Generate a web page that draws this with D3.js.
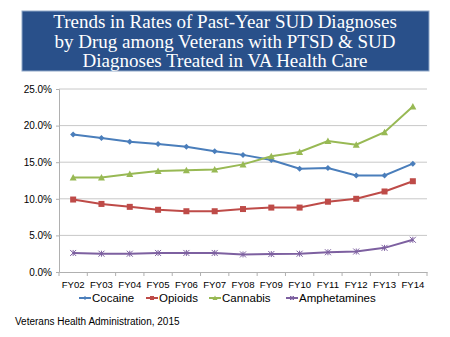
<!DOCTYPE html>
<html>
<head>
<meta charset="utf-8">
<script src="https://cdn.jsdelivr.net/npm/d3@7"></script>
<style>
  body { margin: 0; background: #fff; }
  svg text { font-family: "Liberation Sans", Arial, sans-serif; }
</style>
</head>
<body>
<script>
var years = ["FY02","FY03","FY04","FY05","FY06","FY07","FY08","FY09","FY10","FY11","FY12","FY13","FY14"];
var cocaine = [18.8, 18.3, 17.8, 17.5, 17.1, 16.5, 16.0, 15.3, 14.1, 14.2, 13.2, 13.2, 14.8];
var opioids = [9.9, 9.3, 8.9, 8.5, 8.3, 8.3, 8.6, 8.8, 8.8, 9.6, 10.0, 11.0, 12.4];
var cannabis = [12.9, 12.9, 13.4, 13.8, 13.9, 14.0, 14.7, 15.8, 16.4, 17.9, 17.4, 19.1, 22.6];
var amphetamines = [2.6, 2.5, 2.5, 2.6, 2.6, 2.6, 2.4, 2.45, 2.5, 2.7, 2.8, 3.3, 4.4];
var yTicks = [0, 5, 10, 15, 20, 25];
var titleLines = ["Trends in Rates of Past-Year SUD Diagnoses",
                  "by Drug among Veterans with PTSD & SUD",
                  "Diagnoses Treated in VA Health Care"];

var series = [
  {name: "Cocaine", values: cocaine, color: "#4a7ebb", marker: "diamond"},
  {name: "Opioids", values: opioids, color: "#be4b48", marker: "square"},
  {name: "Cannabis", values: cannabis, color: "#98b954", marker: "triangle"},
  {name: "Amphetamines", values: amphetamines, color: "#7d60a0", marker: "cross"}
];

var W = 450, H = 337;
var margin = {top: 89, right: 23, bottom: 65, left: 59};
var width = W - margin.left - margin.right;
var height = H - margin.top - margin.bottom;

var svg = d3.select("body").append("svg")
    .attr("width", W)
    .attr("height", H);

// title banner
svg.append("rect")
    .attr("x", 22).attr("y", 11)
    .attr("width", 407).attr("height", 60)
    .attr("fill", "#29508a")
    .attr("stroke", "#8fa7c8").attr("stroke-width", 1);

svg.append("g").selectAll("text")
    .data(titleLines)
    .enter().append("text")
    .attr("x", 225)
    .attr("y", function(d, i) { return 28 + i * 19.5; })
    .attr("text-anchor", "middle")
    .attr("fill", "#fff")
    .style("font-family", "'Liberation Serif', 'Times New Roman', serif")
    .style("font-size", "19px")
    .text(function(d) { return d; });

var g = svg.append("g")
    .attr("transform", "translate(" + margin.left + "," + margin.top + ")");

var x = d3.scaleBand().domain(years).range([0, width]);
var y = d3.scaleLinear().domain([0, 25]).range([height, 0]);

// gridlines
g.append("g").selectAll("line")
    .data(yTicks.slice(1))
    .enter().append("line")
    .attr("x1", 0).attr("x2", width)
    .attr("y1", function(d) { return y(d); })
    .attr("y2", function(d) { return y(d); })
    .attr("stroke", "#c8c8c8");

// y axis
var yAxis = g.append("g")
    .call(d3.axisLeft(y).tickValues(yTicks).tickSize(3).tickPadding(4)
      .tickFormat(function(d) { return d.toFixed(1) + "%"; }));
yAxis.select(".domain").attr("stroke", "#b0b0b0");
yAxis.selectAll(".tick line").attr("stroke", "#b0b0b0");
yAxis.selectAll("text").attr("fill", "#000").style("font-size", "10px");

// x axis, ticks between categories
var xAxis = g.append("g")
    .attr("transform", "translate(0," + height + ")")
    .call(d3.axisBottom(x).tickSize(0).tickPadding(9));
xAxis.select(".domain").attr("stroke", "#b0b0b0");
xAxis.selectAll("text").attr("fill", "#000").style("font-size", "9.6px");
xAxis.append("g").selectAll("line")
    .data(d3.range(years.length + 1))
    .enter().append("line")
    .attr("x1", function(i) { return i * x.bandwidth(); })
    .attr("x2", function(i) { return i * x.bandwidth(); })
    .attr("y1", 0).attr("y2", 4)
    .attr("stroke", "#b0b0b0");

function drawMarker(sel, type, color, s) {
  if (type === "diamond") {
    sel.append("path").attr("d", "M0," + (-s) + "L" + s + ",0L0," + s + "L" + (-s) + ",0Z").attr("fill", color);
  } else if (type === "square") {
    sel.append("rect").attr("x", -s).attr("y", -s).attr("width", 2 * s).attr("height", 2 * s).attr("fill", color);
  } else if (type === "triangle") {
    sel.append("path").attr("d", "M0," + (-s - 0.5) + "L" + (s + 0.5) + "," + s + "L" + (-s - 0.5) + "," + s + "Z").attr("fill", color);
  } else {
    sel.append("path").attr("d", "M" + (-s) + "," + (-s) + "L" + s + "," + s + "M" + (-s) + "," + s + "L" + s + "," + (-s) + "M0," + (-s) + "L0," + s)
      .attr("stroke", color).attr("stroke-width", 1).attr("fill", "none");
  }
}

var line = d3.line()
    .x(function(d, i) { return x(years[i]) + x.bandwidth() / 2; })
    .y(function(d) { return y(d); });

series.forEach(function(s) {
  g.append("path")
    .datum(s.values)
    .attr("d", line)
    .attr("fill", "none")
    .attr("stroke", s.color)
    .attr("stroke-width", 2);
  g.append("g").selectAll("g")
    .data(s.values)
    .enter().append("g")
    .attr("transform", function(d, i) { return "translate(" + (x(years[i]) + x.bandwidth() / 2) + "," + y(d) + ")"; })
    .each(function() { drawMarker(d3.select(this), s.marker, s.color, 3); });
});

// legend
var legendX = [79, 146, 209, 286];
var legend = svg.append("g").selectAll("g")
    .data(series)
    .enter().append("g")
    .attr("transform", function(d, i) { return "translate(" + legendX[i] + ",298)"; });
legend.append("line")
    .attr("x1", 0).attr("x2", 12)
    .attr("stroke", function(d) { return d.color; })
    .attr("stroke-width", 2);
legend.each(function(d) {
  var m = d3.select(this).append("g").attr("transform", "translate(6,0)");
  drawMarker(m, d.marker, d.color, 2);
});
legend.append("text")
    .attr("x", 13).attr("y", 4)
    .style("font-size", "11.5px")
    .attr("fill", "#000")
    .text(function(d) { return d.name; });

svg.append("text")
    .attr("x", 15).attr("y", 325)
    .style("font-size", "10px")
    .attr("fill", "#000")
    .text("Veterans Health Administration, 2015");
</script>
</body>
</html>
